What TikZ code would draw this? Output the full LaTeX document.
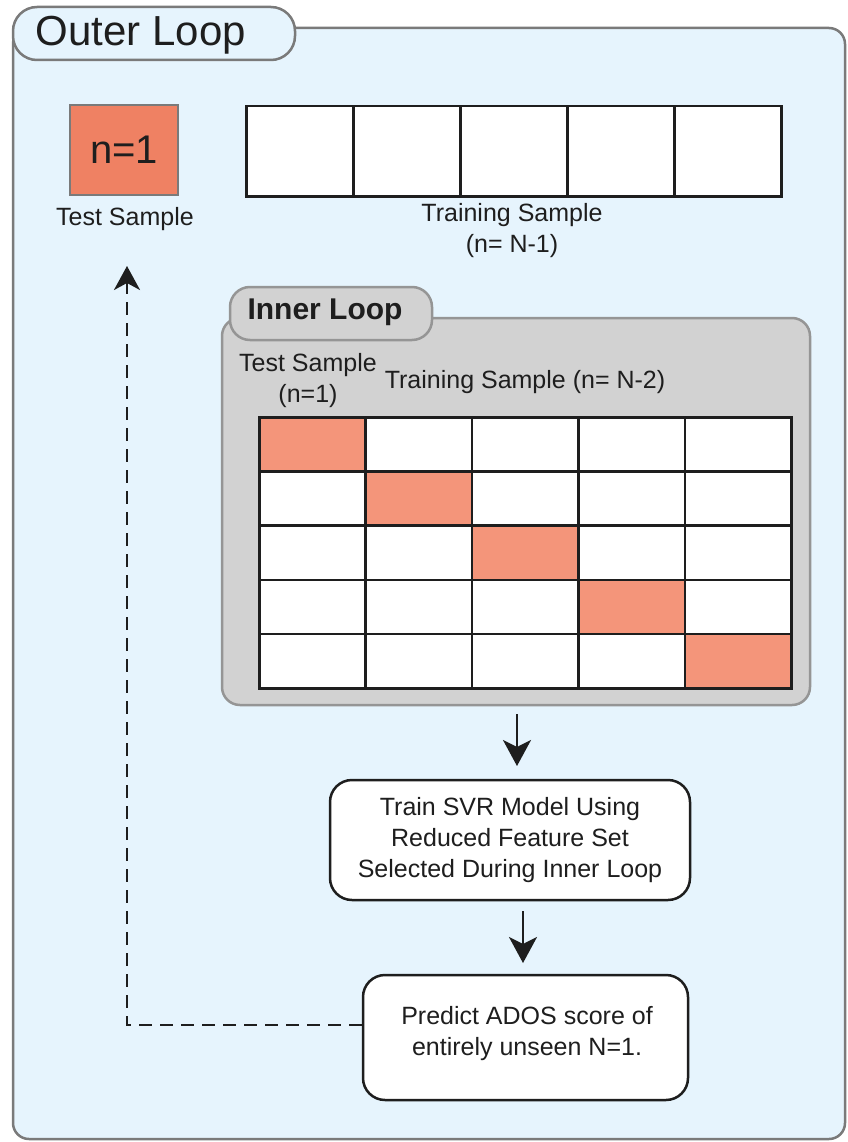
\documentclass[tikz,border=0pt]{standalone}
\usepackage{fontspec}
\setmainfont{Liberation Sans}
\usetikzlibrary{arrows.meta,positioning}
\definecolor{outerfill}{HTML}{E6F4FD}
\definecolor{outerline}{HTML}{7A7A7A}
\definecolor{innerfill}{HTML}{D2D2D2}
\definecolor{innerline}{HTML}{959595}
\definecolor{salmonA}{HTML}{EF8163}
\definecolor{salmonB}{HTML}{F4957A}
\definecolor{ink}{HTML}{1E1E1E}
\tikzset{
  txt/.style={font=\fontsize{25}{31}\selectfont, text=ink, align=center, inner sep=0pt},
  cellbox/.style={draw=ink, line width=2.5pt, fill=white, minimum width=106.4pt, minimum height=54.2pt, inner sep=0pt, anchor=north west},
  topbox/.style={draw=ink, line width=2.5pt, fill=white, minimum width=107pt, minimum height=90pt, inner sep=0pt, anchor=north west},
  stepnode/.style={draw=ink, line width=2.5pt, fill=white, rounded corners=22pt, inner sep=0pt, align=center, font=\fontsize{25}{31}\selectfont, text=ink},
  arr/.style={-{Stealth[length=26pt,width=28pt,inset=7pt]}, line width=2.5pt, draw=ink},
  dasharr/.style={-{Stealth[length=24pt,width=26pt,inset=7pt]}, line width=2.5pt, draw=ink, dash pattern=on 13pt off 8pt},
}
\begin{document}
\begin{tikzpicture}[x=1pt,y=-1pt]
\useasboundingbox (0,0) rectangle (847,1142);
% outer loop
\draw[fill=outerfill, draw=outerline, line width=2.5pt, rounded corners=16pt] (13,28) rectangle (845,1139);
\node[draw=outerline, fill=outerfill, line width=2.5pt, rounded corners=24pt, minimum width=282pt, minimum height=53pt, inner sep=0pt] (outertab) at (154,33.5) {};
\node[font=\fontsize{42}{42}\selectfont, text=ink, inner sep=0pt] (outerlbl) at (141,35) {Outer Loop};
% test sample
\node[draw=outerline, fill=salmonA, line width=2.5pt, minimum width=108pt, minimum height=90pt, inner sep=0pt, font=\fontsize{40}{40}\selectfont, text=ink] (test) at (124,150) {n=1};
\node[txt] (testlbl) at (125,219) {Test Sample};
% training boxes
\foreach \i in {0,...,4} {
  \node[topbox] (tr\i) at ({245+107*\i},105) {};
}
\node[txt] (trlbl) at (512,231) {Training Sample\\(n= N-1)};
% inner loop
\draw[fill=innerfill, draw=innerline, line width=2.5pt, rounded corners=18pt] (222,318) rectangle (810,705);
\node[draw=innerline, fill=innerfill, line width=2.5pt, rounded corners=20pt, minimum width=202pt, minimum height=53pt, inner sep=0pt] (innertab) at (331,313.5) {};
\node[font=\bfseries\fontsize{30}{30}\selectfont, text=ink, inner sep=0pt] (innerlbl) at (325,312) {Inner Loop};
\node[txt] (itest) at (308,381) {Test Sample\\(n=1)};
\node[txt] (itrain) at (525,382) {Training Sample (n= N-2)};
% grid
\foreach \r in {0,...,4} {
  \foreach \c in {0,...,4} {
    \ifnum\r=\c
      \node[cellbox, fill=salmonB] (g\r\c) at ({258+106.4*\c},{416+54.2*\r}) {};
    \else
      \node[cellbox] (g\r\c) at ({258+106.4*\c},{416+54.2*\r}) {};
    \fi
  }
}
% steps
\node[stepnode, minimum width=360pt, minimum height=120pt] (train) at (510,840) {Train SVR Model Using\\Reduced Feature Set\\Selected During Inner Loop};
\node[stepnode, minimum width=325pt, minimum height=125pt] (predict) at (525.5,1037.5) {};
\node[txt] (predlbl) at (527,1034) {Predict ADOS score of\\entirely unseen N=1.};
% arrows
\coordinate (a1s) at (517,714);
\coordinate (a1e) at (517,766);
\draw[arr] (a1s) -- (a1e);
\coordinate (a2s) at (523,911);
\coordinate (a2e) at (523,963);
\draw[arr] (a2s) -- (a2e);
\coordinate (corner) at (127,1025);
\coordinate (dend) at (127,266);
\draw[dasharr] (predict.west |- corner) -- (corner) -- (dend);
\end{tikzpicture}
\end{document}
